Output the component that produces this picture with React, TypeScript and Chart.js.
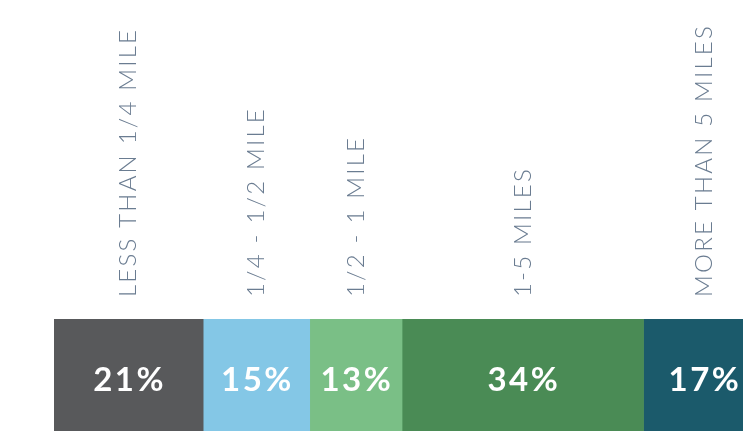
import React, { useEffect, useRef } from "react";
import { Chart, registerables } from "chart.js";

Chart.register(...registerables);

const categories = [
  "LESS THAN 1/4 MILE",
  "1/4 - 1/2 MILE",
  "1/2 - 1 MILE",
  "1-5 MILES",
  "MORE THAN 5 MILES",
];
const shares = [21, 15, 13, 34, 17];
const colors = ["#58595b", "#84c7e6", "#7abf86", "#4a8b55", "#1b5a6b"];
const axisMax = 97;

const labelPlugin = {
  id: "segmentLabels",
  afterDatasetsDraw(chart: any) {
    const ctx = chart.ctx;
    chart.data.datasets.forEach((ds: any, i: number) => {
      const meta = chart.getDatasetMeta(i);
      const el = meta.data[0];
      if (!el) return;
      const cx = (el.x + el.base) / 2;
      // percentage inside bar
      ctx.save();
      ctx.fillStyle = "#ffffff";
      ctx.font = "700 33px Lato";
      (ctx as any).letterSpacing = "2.5px";
      ctx.textAlign = "center";
      ctx.textBaseline = "middle";
      ctx.fillText(ds.data[0] + "%", cx + 1, el.y);
      ctx.restore();
      // rotated category label
      ctx.save();
      ctx.translate(cx, chart.chartArea.top - 22);
      ctx.rotate(-Math.PI / 2);
      ctx.fillStyle = "#6a7c91";
      ctx.font = "300 24px Lato";
      (ctx as any).letterSpacing = "2.2px";
      ctx.textAlign = "left";
      ctx.textBaseline = "middle";
      ctx.fillText(ds.label, 0, 0);
      ctx.restore();
    });
  },
};

export default function App() {
  const ref = useRef<HTMLCanvasElement | null>(null);
  useEffect(() => {
    if (!ref.current) return;
    const chart = new Chart(ref.current, {
      type: "bar",
      data: {
        labels: [""],
        datasets: categories.map((c, i) => ({
          label: c,
          data: [shares[i]],
          backgroundColor: colors[i],
          borderWidth: 0,
          barPercentage: 1,
          categoryPercentage: 1,
        })),
      },
      options: {
        indexAxis: "y",
        responsive: false,
        animation: false,
        devicePixelRatio: 1,
        layout: { padding: { left: 54, top: 319, right: 0, bottom: 0 } },
        plugins: { legend: { display: false }, tooltip: { enabled: false } },
        scales: {
          x: { stacked: true, min: 0, max: axisMax, display: false },
          y: { stacked: true, display: false },
        },
      },
      plugins: [labelPlugin],
    });
    return () => chart.destroy();
  }, []);
  return (
    <div style={{ position: "fixed", left: 0, top: 0, width: 743, height: 441, overflow: "hidden", background: "#fff" }}>
      <canvas ref={ref} width={743} height={441} style={{ display: "block" }} />
    </div>
  );
}
